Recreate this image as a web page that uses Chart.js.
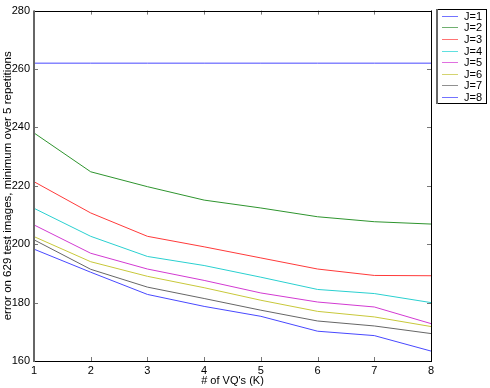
<!DOCTYPE html>
<html>
<head>
<meta charset="utf-8">
<script src="https://cdn.jsdelivr.net/npm/chart.js@4/dist/chart.umd.min.js"></script>
<style>
html,body{margin:0;padding:0;background:#fff;}
canvas{display:block;}
</style>
</head>
<body>
<canvas id="c" width="490" height="388"></canvas>
<script>
const kValues = [1, 2, 3, 4, 5, 6, 7, 8];
const seriesLabels = ['J=1', 'J=2', 'J=3', 'J=4', 'J=5', 'J=6', 'J=7', 'J=8'];
const J1 = [262, 262, 262, 262, 262, 262, 262, 262];
const J2 = [238.1, 224.8, 219.7, 215.1, 212.4, 209.4, 207.7, 206.9];
const J3 = [221.4, 210.7, 202.7, 199.1, 195.3, 191.5, 189.3, 189.2];
const J4 = [212.3, 202.7, 195.8, 192.7, 188.7, 184.5, 183.1, 180.0];
const J5 = [206.6, 196.9, 191.5, 187.6, 183.3, 180.2, 178.5, 172.8];
const J6 = [202.6, 194.0, 189.0, 185.1, 180.8, 177.0, 175.1, 171.8];
const J7 = [201.5, 191.4, 185.3, 181.4, 177.4, 173.7, 172.0, 169.4];
const J8 = [198.3, 190.4, 182.8, 178.7, 175.3, 170.2, 168.7, 163.4];
const yTicks = [160, 180, 200, 220, 240, 260, 280];
const colors = ['#4848ff', '#2e942e', '#ff3a3a', '#2ad0d0', '#d23ad2', '#c8c83a', '#666666', '#4848ff'];
const legendColors = ['#7373ff', '#70b070', '#ff7373', '#60e0e0', '#e070e0', '#d4d470', '#909090', '#7373ff'];
const allSeries = [J1, J2, J3, J4, J5, J6, J7, J8];

const FONT = 'Liberation Sans, Arial, Helvetica, sans-serif';

const datasets = allSeries.map((s, i) => ({
  label: seriesLabels[i],
  data: s.map((v, j) => ({x: kValues[j], y: v})),
  borderColor: colors[i],
  backgroundColor: colors[i],
  borderWidth: 1,
  pointRadius: 0,
  fill: false,
  tension: 0
}));

const framePlugin = {
  id: 'frame',
  afterDraw(chart) {
    const ctx = chart.ctx;
    const a = chart.chartArea;
    const xs = chart.scales.x, ys = chart.scales.y;
    ctx.save();
    // ticks inward
    ctx.strokeStyle = '#777';
    ctx.lineWidth = 1;
    const tl = 4;
    xs.ticks.forEach(t => {
      const px = Math.round(xs.getPixelForValue(t.value)) + 0.5;
      ctx.beginPath();
      ctx.moveTo(px, a.bottom); ctx.lineTo(px, a.bottom - tl);
      ctx.moveTo(px, a.top); ctx.lineTo(px, a.top + tl);
      ctx.stroke();
    });
    ys.ticks.forEach(t => {
      const py = Math.round(ys.getPixelForValue(t.value)) + 0.5;
      ctx.beginPath();
      ctx.moveTo(a.left, py); ctx.lineTo(a.left + tl, py);
      ctx.moveTo(a.right, py); ctx.lineTo(a.right - tl, py);
      ctx.stroke();
    });
    // box
    ctx.strokeStyle = '#000';
    ctx.lineWidth = 1;
    ctx.beginPath();
    ctx.moveTo(a.left, Math.round(a.top) + 0.5);
    ctx.lineTo(a.right, Math.round(a.top) + 0.5);
    ctx.moveTo(Math.round(a.right) + 0.5, a.top);
    ctx.lineTo(Math.round(a.right) + 0.5, a.bottom);
    ctx.moveTo(a.left, Math.round(a.bottom) + 0.5);
    ctx.lineTo(a.right + 1, Math.round(a.bottom) + 0.5);
    ctx.stroke();
    ctx.strokeStyle = '#666';
    ctx.lineWidth = 2;
    ctx.beginPath();
    ctx.moveTo(a.left, a.top);
    ctx.lineTo(a.left, a.bottom + 1);
    ctx.stroke();

    // legend
    const lx = 436, ly = 9, lw = 50, lh = 94;
    ctx.fillStyle = '#fff';
    ctx.fillRect(lx, ly, lw, lh);
    ctx.strokeStyle = '#000';
    ctx.lineWidth = 1;
    ctx.strokeRect(lx + 0.5, ly + 0.5, lw, lh);
    ctx.strokeStyle = '#666';
    ctx.lineWidth = 2;
    ctx.beginPath();
    ctx.moveTo(lx + 1, ly);
    ctx.lineTo(lx + 1, ly + lh + 1);
    ctx.stroke();
    ctx.font = '11px ' + FONT;
    ctx.textBaseline = 'middle';
    ctx.textAlign = 'left';
    chart.data.datasets.forEach((d, i) => {
      const y = Math.round(15.7 + i * 11.6) + 0.5;
      ctx.strokeStyle = legendColors[i];
      ctx.lineWidth = 1;
      ctx.beginPath();
      ctx.moveTo(442, y); ctx.lineTo(458, y);
      ctx.stroke();
      ctx.fillStyle = '#000';
      ctx.fillText(d.label, 464, y);
    });
    ctx.restore();
  }
};

new Chart(document.getElementById('c'), {
  type: 'line',
  data: { datasets },
  options: {
    responsive: false,
    animation: false,
    devicePixelRatio: 1,
    layout: { padding: { top: 9, right: 59, left: 0, bottom: 0 } },
    plugins: { legend: { display: false }, tooltip: { enabled: false } },
    scales: {
      x: {
        type: 'linear',
        min: 1, max: 8,
        afterFit(s) { s.height = 27; },
        ticks: { stepSize: 1, padding: 3, color: '#000', font: { family: FONT, size: 11 } },
        grid: { display: false, drawTicks: false },
        border: { display: false },
        title: { display: true, text: "# of VQ's (K)", color: '#000', font: { family: FONT, size: 11 }, padding: { top: 0, bottom: 0 } }
      },
      y: {
        type: 'linear',
        min: 160, max: 280,
        afterFit(s) { s.width = 34; },
        afterBuildTicks(s) { s.ticks = yTicks.map(v => ({ value: v })); },
        ticks: { padding: 4, color: '#000', font: { family: FONT, size: 11 } },
        grid: { display: false, drawTicks: false },
        border: { display: false },
        title: { display: true, text: 'error on 629 test images, minimum over 5 repetitions', color: '#000', font: { family: FONT, size: 11.5 }, padding: { top: 1, bottom: 0 } }
      }
    }
  },
  plugins: [framePlugin]
});
</script>
</body>
</html>
